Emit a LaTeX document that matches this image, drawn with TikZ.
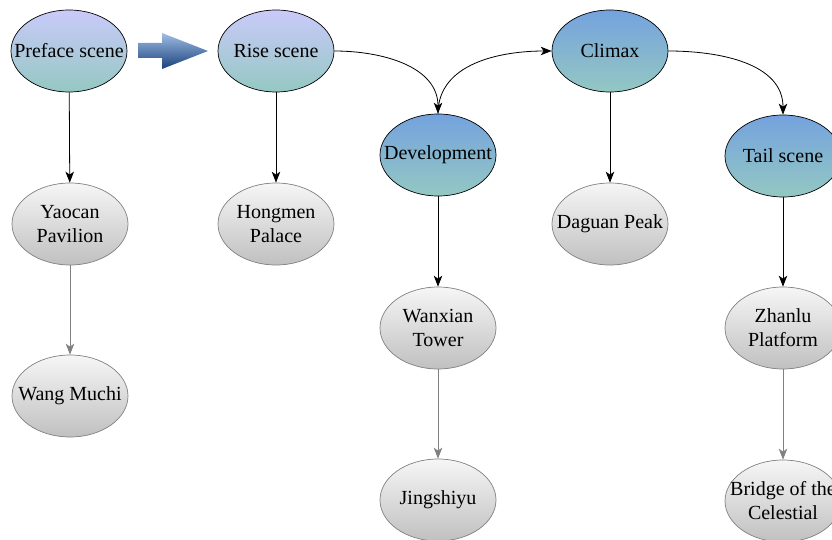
\documentclass[tikz,border=0pt]{standalone}
\usepackage{fontspec}
\setmainfont{Liberation Serif}
\usetikzlibrary{shapes.geometric,arrows.meta}
\definecolor{lavtop}{RGB}{202,202,250}
\definecolor{tealbot}{RGB}{148,200,194}
\definecolor{bluetop}{RGB}{116,162,222}
\definecolor{graytop}{RGB}{246,246,246}
\definecolor{graybot}{RGB}{192,192,192}
\definecolor{arrowtop}{RGB}{160,190,228}
\definecolor{arrowbot}{RGB}{25,65,125}
\tikzset{
  scene/.style={draw, ellipse, line width=0.7pt, minimum width=116pt, minimum height=82pt,
    inner xsep=-20pt, inner ysep=-10pt, align=center, font=\fontsize{20}{24}\selectfont},
  prelude/.style={scene, top color=lavtop, bottom color=tealbot},
  act/.style={scene, top color=bluetop, bottom color=tealbot},
  place/.style={scene, draw=gray, top color=graytop, bottom color=graybot},
  mainlink/.style={line width=0.8pt, -{Stealth[length=11pt,width=8.5pt,inset=3pt]}},
  minorlink/.style={line width=0.8pt, draw=gray, -{Stealth[length=11pt,width=8.5pt,inset=3pt]}, gray}
}
\begin{document}
\begin{tikzpicture}[x=1pt, y=-1pt]
  \useasboundingbox (0,0) rectangle (832,540);
  \node[prelude] (preface) at (69,51) {Preface scene};
  \node[prelude] (rise) at (276,51) {Rise scene};
  \node[act] (dev) at (438,155) {Development};
  \node[act] (climax) at (610,51) {Climax};
  \node[act] (tail) at (783,156) {Tail scene};
  \node[place] (yaocan) at (70,224) {Yaocan\\Pavilion};
  \node[place] (wang) at (70,396) {Wang Muchi};
  \node[place] (hongmen) at (276,224) {Hongmen\\Palace};
  \node[place] (wanxian) at (438,328) {Wanxian\\Tower};
  \node[place] (jingshiyu) at (438,500) {Jingshiyu};
  \node[place] (daguan) at (610,224) {Daguan Peak};
  \node[place] (zhanlu) at (783,328) {Zhanlu\\Platform};
  \node[place] (bridge) at (783,501) {Bridge of the\\Celestial};
  \shade[top color=arrowtop, bottom color=arrowbot]
    (138,43) -- (162,43) -- (162,33) -- (208,51) -- (162,69) -- (162,58) -- (138,58) -- cycle;
  \draw[mainlink] (rise.east) to[out=0, in=90] (dev.north);
  \draw[mainlink] (dev.north) to[out=90, in=180] (climax.west);
  \draw[mainlink] (climax.east) to[out=0, in=90] (tail.north);
  \draw[mainlink] (preface) -- (yaocan);
  \draw[mainlink] (rise) -- (hongmen);
  \draw[mainlink] (dev) -- (wanxian);
  \draw[mainlink] (climax) -- (daguan);
  \draw[mainlink] (tail) -- (zhanlu);
  \draw[minorlink] (yaocan) -- (wang);
  \draw[minorlink] (wanxian) -- (jingshiyu);
  \draw[minorlink] (zhanlu) -- (bridge);
\end{tikzpicture}
\end{document}
